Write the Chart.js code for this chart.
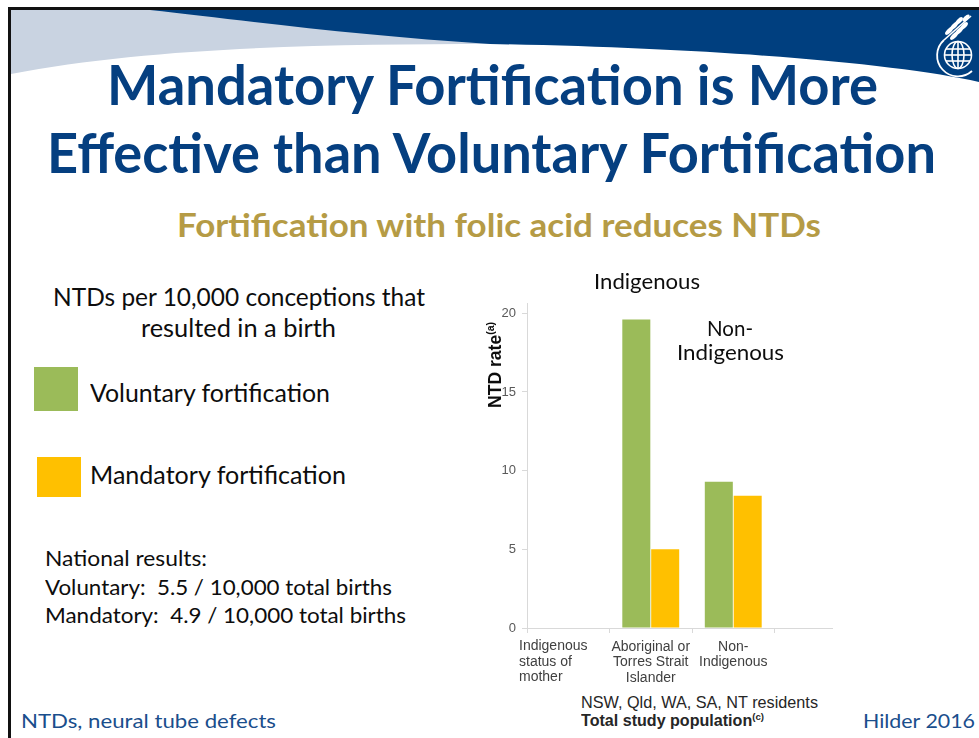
<!DOCTYPE html>
<html><head><meta charset="utf-8">
<script src="https://cdn.jsdelivr.net/npm/chart.js@4.4.1/dist/chart.umd.min.js"></script>
<style>
html,body{margin:0;padding:0;background:#fff;}
#slide{position:relative;width:979px;height:738px;overflow:hidden;background:#fff;}
.t{position:absolute;white-space:nowrap;line-height:1.2;font-family:Lato,'Open Sans',sans-serif;transform-origin:0 0;}
.t sup{font-size:60%;vertical-align:super;line-height:0;}
#chartClip{position:absolute;left:440px;top:290px;width:393px;height:400px;overflow:hidden;}
.sq{position:absolute;}
</style></head><body>
<div id="slide">
<svg width="979" height="100" style="position:absolute;left:0;top:0">
  <path d="M11,10 L500,10 L500,44 L490,44 C330,44 150,47 11,74 Z" fill="#c9d3e1"/>
  <path d="M150,10 L979,10 L979,82 C900,64 720,48 490,44 C360,36 240,20 150,10 Z" fill="#003f7f"/>
  <rect x="8" y="7" width="971" height="3" fill="#111"/>
  <g fill="none" stroke="#fff" stroke-width="1.6">
    <circle cx="958" cy="55" r="13.5"/>
    <ellipse cx="958" cy="55" rx="6" ry="13.5"/>
    <line x1="958" y1="41.5" x2="958" y2="68.5"/>
    <line x1="946" y1="49" x2="970" y2="49"/>
    <line x1="944.5" y1="55" x2="971.5" y2="55"/>
    <line x1="946" y1="61" x2="970" y2="61"/>
    <path d="M944,40 A19,19 0 0 0 972,71" stroke-width="1.8"/>
    <line x1="944" y1="40" x2="971" y2="16"/>
  </g>
  <g fill="#fff">
    <ellipse cx="949" cy="31" rx="2.2" ry="5" transform="rotate(45 949 31)"/>
    <ellipse cx="954" cy="36" rx="2.2" ry="5" transform="rotate(45 954 36)"/>
    <ellipse cx="954" cy="26" rx="2.2" ry="5" transform="rotate(45 954 26)"/>
    <ellipse cx="959" cy="31" rx="2.2" ry="5" transform="rotate(45 959 31)"/>
    <ellipse cx="959" cy="21" rx="2.2" ry="5" transform="rotate(45 959 21)"/>
    <ellipse cx="964" cy="26" rx="2.2" ry="5" transform="rotate(45 964 26)"/>
    <ellipse cx="966" cy="18" rx="2" ry="4.5" transform="rotate(45 966 18)"/>
  </g>
</svg>
<div style="position:absolute;left:8px;top:7px;width:3px;height:731px;background:#111"></div>
<div class="sq" style="left:34px;top:367px;width:44px;height:44px;background:#9bbb59"></div>
<div class="sq" style="left:37px;top:457px;width:44px;height:40px;background:#ffc000"></div>
<div id="chartClip"><canvas id="c" width="440" height="400"></canvas></div>
</div>
<script>
// ---- data ----
const categories = [["Indigenous","status of","mother"],["Aboriginal or","Torres Strait","Islander"],["Non-","Indigenous"],""];
const voluntary = [null, 19.6, 9.3, null];
const mandatory = [null, 5.0, 8.4, null];
const yTicks = [0, 5, 10, 15, 20];
const seriesNames = ["Voluntary fortification", "Mandatory fortification"];

// ---- slide text ----
const slide = document.getElementById('slide');
const NAVY = '#053f80', GOLD = '#b59b45', BLUE = '#1a4e8c', INK = '#0d0d0d';
const texts = [
  {h:'Mandatory Fortification is More', x:107, w:771, b:105, size:55, wt:700, c:NAVY},
  {h:'Effective than Voluntary Fortification', x:47, w:889, b:173, size:55, wt:700, c:NAVY},
  {h:'Fortification with folic acid reduces NTDs', x:177, w:644, b:237, size:33, wt:700, c:GOLD},
  {h:'NTDs per 10,000 conceptions that', x:53, w:372, b:306, size:25, wt:400, c:INK},
  {h:'resulted in a birth', x:141, w:195, b:337, size:25, wt:400, c:INK},
  {h:seriesNames[0], x:90, w:240, b:402, size:25, wt:400, c:INK},
  {h:seriesNames[1], x:90, w:256, b:484, size:25, wt:400, c:INK},
  {h:'National results:', x:45, w:162, b:566, size:21, wt:400, c:INK},
  {h:'Voluntary:&nbsp; 5.5 / 10,000 total births', x:45, w:347, b:595, size:21, wt:400, c:INK},
  {h:'Mandatory:&nbsp; 4.9 / 10,000 total births', x:45, w:361, b:623, size:21, wt:400, c:INK},
  {h:'NTDs, neural tube defects', x:21, w:255, b:728, size:20, wt:400, c:BLUE},
  {h:'Hilder 2016', x:863, w:112, b:728, size:20, wt:400, c:BLUE},
  {h:'Indigenous', x:594, w:106, b:289, size:21, wt:400, c:INK},
  {h:'Non-', x:707, w:46, b:336, size:21, wt:400, c:INK},
  {h:'Indigenous', x:677, w:107, b:360, size:21, wt:400, c:INK},
  {h:'NSW, Qld, WA, SA, NT residents', x:581, w:237, b:708, size:16.5, wt:400, c:'#262626', f:"'Liberation Sans', Arial, sans-serif"},
  {h:'Total study population<sup>(c)</sup>', x:581, w:183, b:726, size:16.5, wt:700, c:'#262626', f:"'Liberation Sans', Arial, sans-serif"},
  {h:'NTD rate<sup>(a)</sup>', x:501, w:86, b:408, size:19, wt:700, c:'#0d0d0d', f:"'Liberation Sans', Arial, sans-serif", rot:true}
];
function place(t){
  const d = document.createElement('div');
  d.className = 't';
  d.style.fontSize = t.size + 'px';
  d.style.fontWeight = t.wt;
  d.style.color = t.c;
  if (t.f) d.style.fontFamily = t.f;
  d.innerHTML = t.h;
  const m = document.createElement('span');
  m.style.cssText = 'display:inline-block;width:0;height:0;vertical-align:baseline';
  d.appendChild(m);
  slide.appendChild(d);
  const base = m.offsetTop;
  const nat = d.getBoundingClientRect().width;
  const s = t.w / nat;
  if (t.rot) {
    d.style.left = (t.x - base) + 'px';
    d.style.top = t.b + 'px';
    d.style.transform = 'rotate(-90deg) scaleX(' + s + ')';
  } else {
    d.style.left = t.x + 'px';
    d.style.top = (t.b - base) + 'px';
    d.style.transform = 'scaleX(' + s + ')';
  }
}
texts.forEach(place);

// ---- chart ----
const TICK_FONT = {family:"'Liberation Sans', Arial, sans-serif", size:14, lineHeight:1.12};
const firstLabelLeft = {
  id:'firstLabelLeft',
  afterDraw(chart){
    const sc = chart.scales.x, ctx = chart.ctx;
    const lines = categories[0];
    const f = Chart.helpers.toFont(TICK_FONT);
    ctx.save();
    ctx.font = f.string;
    ctx.fillStyle = '#404040';
    ctx.textAlign = 'left';
    ctx.textBaseline = 'top';
    const y0 = sc.top + sc.options.grid.tickLength + sc.options.ticks.padding;
    lines.forEach((ln, i) => ctx.fillText(ln, sc.left - 8, y0 + i * f.lineHeight));
    ctx.restore();
  }
};
new Chart(document.getElementById('c'), {
  type:'bar',
  data:{
    labels: categories,
    datasets:[
      {label:seriesNames[0], data:voluntary, backgroundColor:'#9bbb59', categoryPercentage:0.7, barPercentage:0.97},
      {label:seriesNames[1], data:mandatory, backgroundColor:'#ffc000', categoryPercentage:0.7, barPercentage:0.97}
    ]
  },
  options:{
    responsive:false, animation:false,
    layout:{padding:{top:11.5, right:23, left:0, bottom:0}},
    plugins:{legend:{display:false}, tooltip:{enabled:false}},
    scales:{
      x:{
        grid:{drawOnChartArea:false, drawTicks:true, tickLength:5, offset:true,
              color:'#d9d9d9',
              tickColor: c => c.index === categories.length ? 'rgba(0,0,0,0)' : '#d9d9d9'},
        border:{display:true, color:'#d9d9d9', width:1},
        ticks:{font:TICK_FONT, color: c => c.index === 0 ? 'rgba(0,0,0,0)' : '#404040',
               padding:6, maxRotation:0, minRotation:0, autoSkip:false},
        afterFit: s => { s.height = 62; }
      },
      y:{
        min:0, max:20.6,
        afterBuildTicks: s => { s.ticks = yTicks.map(v => ({value:v})); },
        grid:{drawOnChartArea:false, drawTicks:true, tickLength:5, color:'#d9d9d9'},
        border:{display:true, color:'#d9d9d9', width:1},
        ticks:{font:{family:"'Liberation Sans', Arial, sans-serif", size:13}, color:'#595959', padding:6},
        afterFit: s => { s.width = 87; }
      }
    }
  },
  plugins:[firstLabelLeft]
});
</script>
</body></html>
